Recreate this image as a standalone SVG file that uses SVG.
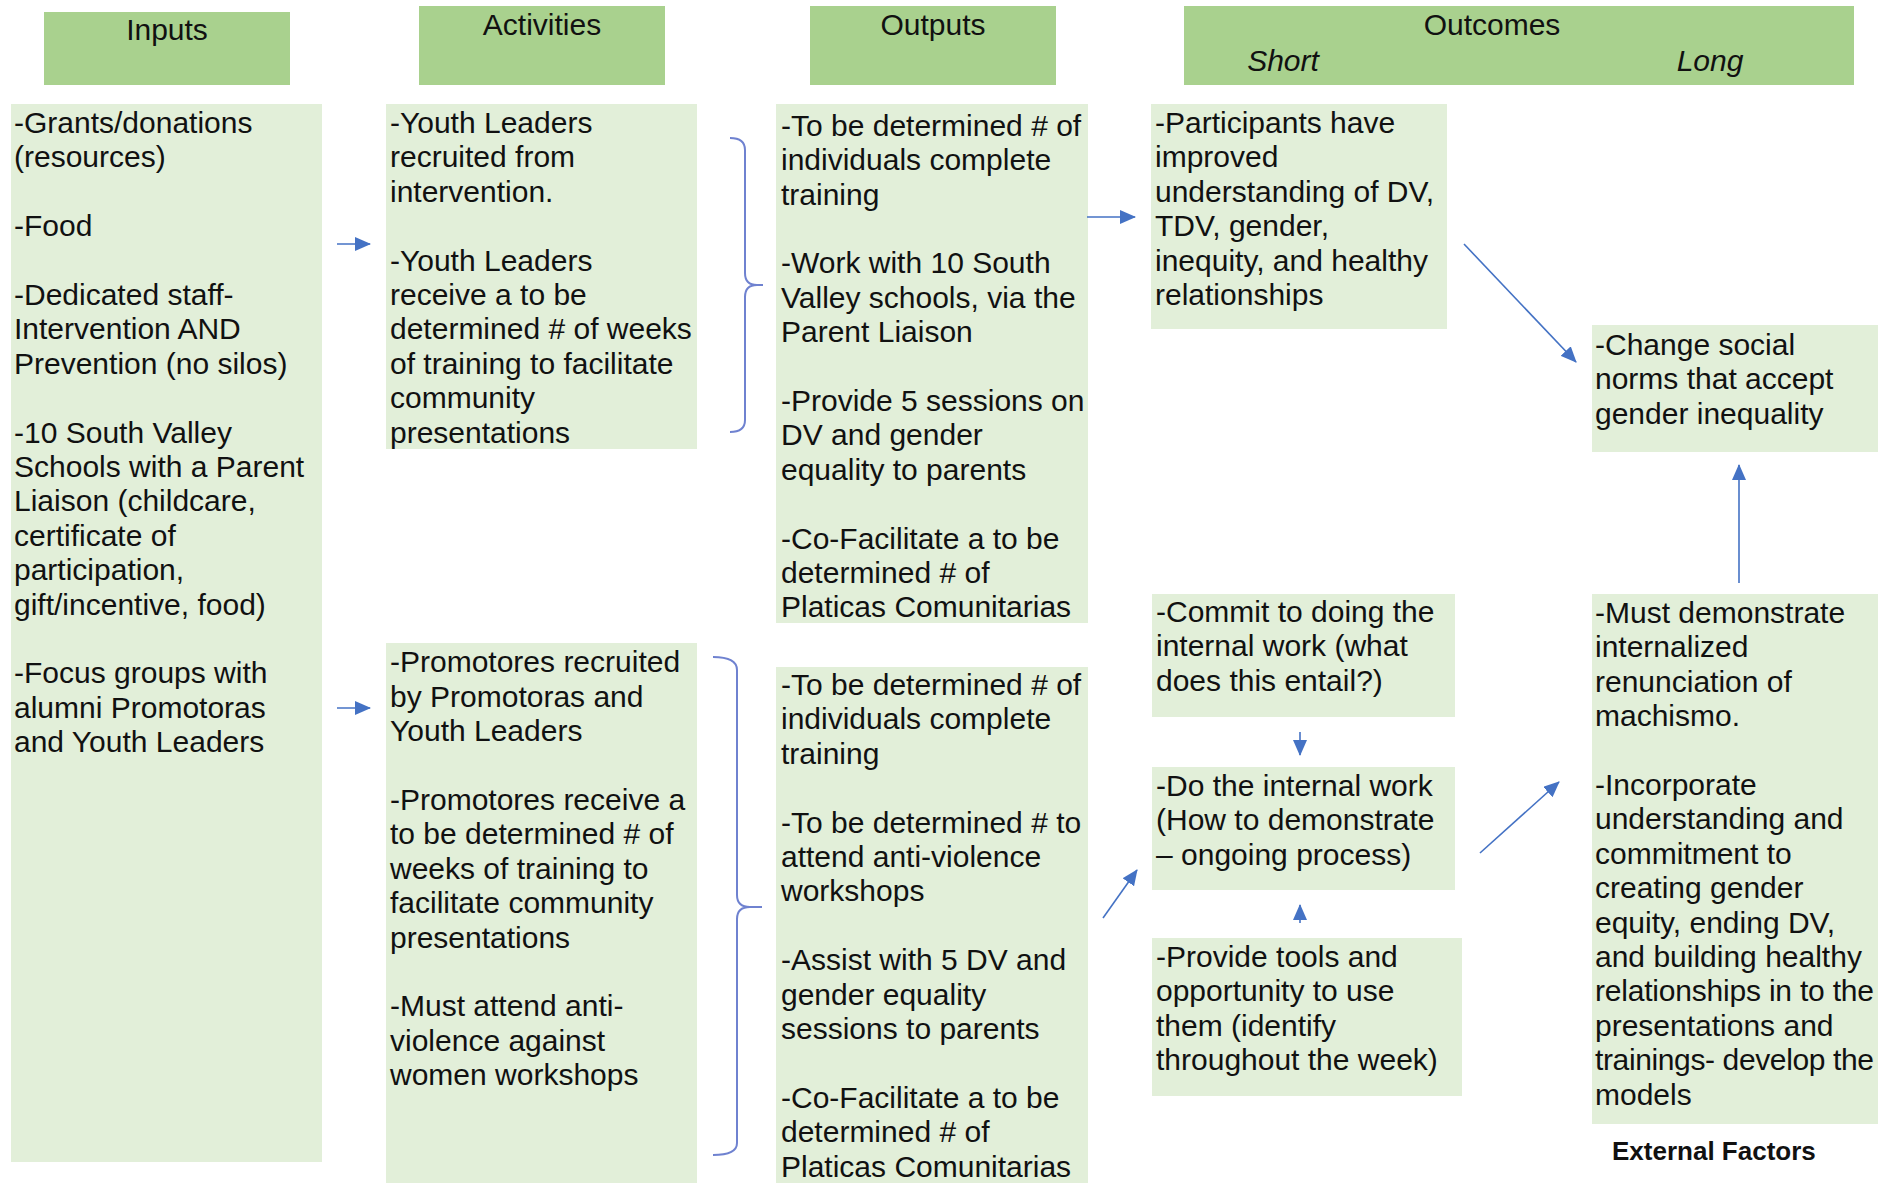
<svg xmlns="http://www.w3.org/2000/svg" width="1878" height="1183" viewBox="0 0 1878 1183">
<style>
.hdr{fill:#a9d18e}
.body{fill:#e2efd9}
text{font-family:"Liberation Sans",Arial,sans-serif;font-size:30px;fill:#111}
.hc{text-anchor:middle}
.it{font-style:italic}
.ext{font-weight:bold;font-size:26px}
.conn{stroke:#4472c4;stroke-width:1.6;fill:none}
.brace{stroke:#6f82d0;stroke-width:2;fill:none}
</style>
<defs>
<marker id="ah" markerUnits="userSpaceOnUse" markerWidth="16" markerHeight="14" refX="15" refY="7" orient="auto">
<path d="M0,0 L16,7 L0,14 z" fill="#4472c4"/>
</marker>
</defs>
<rect width="1878" height="1183" fill="#fff"/>

<g id="hdr-inputs"><rect class="hdr" x="44" y="12" width="246" height="73"/><text class="hc" x="167" y="40">Inputs</text></g>
<g id="hdr-activities"><rect class="hdr" x="419" y="6" width="246" height="79"/><text class="hc" x="542" y="35">Activities</text></g>
<g id="hdr-outputs"><rect class="hdr" x="810" y="6" width="246" height="79"/><text class="hc" x="933" y="35">Outputs</text></g>
<g id="hdr-outcomes"><rect class="hdr" x="1184" y="6" width="670" height="79"/><text class="hc" x="1492" y="35">Outcomes</text><text class="hc it" x="1283" y="71">Short</text><text class="hc it" x="1710" y="71">Long</text></g>

<g id="inputs"><rect class="body" x="11" y="104" width="311" height="1058"/>
<text x="14">
<tspan x="14" y="133">-Grants/donations</tspan>
<tspan x="14" y="167.4">(resources)</tspan>
<tspan x="14" y="236.2">-Food</tspan>
<tspan x="14" y="305">-Dedicated staff-</tspan>
<tspan x="14" y="339.4">Intervention AND</tspan>
<tspan x="14" y="373.8">Prevention (no silos)</tspan>
<tspan x="14" y="442.6">-10 South Valley</tspan>
<tspan x="14" y="477">Schools with a Parent</tspan>
<tspan x="14" y="511.4">Liaison (childcare,</tspan>
<tspan x="14" y="545.8">certificate of</tspan>
<tspan x="14" y="580.2">participation,</tspan>
<tspan x="14" y="614.6">gift/incentive, food)</tspan>
<tspan x="14" y="683.4">-Focus groups with</tspan>
<tspan x="14" y="717.8">alumni Promotoras</tspan>
<tspan x="14" y="752.2">and Youth Leaders</tspan>
</text></g>

<g id="activities-top"><rect class="body" x="386" y="104" width="311" height="345"/>
<text>
<tspan x="390" y="133">-Youth Leaders</tspan>
<tspan x="390" y="167.4">recruited from</tspan>
<tspan x="390" y="201.8">intervention.</tspan>
<tspan x="390" y="270.6">-Youth Leaders</tspan>
<tspan x="390" y="305">receive a to be</tspan>
<tspan x="390" y="339.4">determined # of weeks</tspan>
<tspan x="390" y="373.8">of training to facilitate</tspan>
<tspan x="390" y="408.2">community</tspan>
<tspan x="390" y="442.6">presentations</tspan>
</text></g>

<g id="activities-bottom"><rect class="body" x="386" y="643" width="311" height="540"/>
<text>
<tspan x="390" y="672.3">-Promotores recruited</tspan>
<tspan x="390" y="706.7">by Promotoras and</tspan>
<tspan x="390" y="741.1">Youth Leaders</tspan>
<tspan x="390" y="809.9">-Promotores receive a</tspan>
<tspan x="390" y="844.3">to be determined # of</tspan>
<tspan x="390" y="878.7">weeks of training to</tspan>
<tspan x="390" y="913.1">facilitate community</tspan>
<tspan x="390" y="947.5">presentations</tspan>
<tspan x="390" y="1016.3">-Must attend anti-</tspan>
<tspan x="390" y="1050.7">violence against</tspan>
<tspan x="390" y="1085.1">women workshops</tspan>
</text></g>

<g id="outputs-top"><rect class="body" x="776" y="104" width="312" height="519"/>
<text>
<tspan x="781" y="135.8">-To be determined # of</tspan>
<tspan x="781" y="170.2">individuals complete</tspan>
<tspan x="781" y="204.6">training</tspan>
<tspan x="781" y="273.4">-Work with 10 South</tspan>
<tspan x="781" y="307.8">Valley schools, via the</tspan>
<tspan x="781" y="342.2">Parent Liaison</tspan>
<tspan x="781" y="411">-Provide 5 sessions on</tspan>
<tspan x="781" y="445.4">DV and gender</tspan>
<tspan x="781" y="479.8">equality to parents</tspan>
<tspan x="781" y="548.6">-Co-Facilitate a to be</tspan>
<tspan x="781" y="583">determined # of</tspan>
<tspan x="781" y="617.4">Platicas Comunitarias</tspan>
</text></g>

<g id="outputs-bottom"><rect class="body" x="776" y="667" width="312" height="516"/>
<text>
<tspan x="781" y="695">-To be determined # of</tspan>
<tspan x="781" y="729.4">individuals complete</tspan>
<tspan x="781" y="763.8">training</tspan>
<tspan x="781" y="832.6">-To be determined # to</tspan>
<tspan x="781" y="867">attend anti-violence</tspan>
<tspan x="781" y="901.4">workshops</tspan>
<tspan x="781" y="970.2">-Assist with 5 DV and</tspan>
<tspan x="781" y="1004.6">gender equality</tspan>
<tspan x="781" y="1039">sessions to parents</tspan>
<tspan x="781" y="1107.8">-Co-Facilitate a to be</tspan>
<tspan x="781" y="1142.2">determined # of</tspan>
<tspan x="781" y="1176.6">Platicas Comunitarias</tspan>
</text></g>

<g id="participants"><rect class="body" x="1151" y="104" width="296" height="225"/>
<text>
<tspan x="1155" y="133">-Participants have</tspan>
<tspan x="1155" y="167.4">improved</tspan>
<tspan x="1155" y="201.8">understanding of DV,</tspan>
<tspan x="1155" y="236.2">TDV, gender,</tspan>
<tspan x="1155" y="270.6">inequity, and healthy</tspan>
<tspan x="1155" y="305">relationships</tspan>
</text></g>

<g id="commit"><rect class="body" x="1152" y="594" width="303" height="123"/>
<text>
<tspan x="1156" y="622">-Commit to doing the</tspan>
<tspan x="1156" y="656.4">internal work (what</tspan>
<tspan x="1156" y="690.8">does this entail?)</tspan>
</text></g>

<g id="do-work"><rect class="body" x="1152" y="767" width="303" height="123"/>
<text>
<tspan x="1156" y="795.7">-Do the internal work</tspan>
<tspan x="1156" y="830.1">(How to demonstrate</tspan>
<tspan x="1156" y="864.5">– ongoing process)</tspan>
</text></g>

<g id="provide-tools"><rect class="body" x="1152" y="938" width="310" height="158"/>
<text>
<tspan x="1156" y="967">-Provide tools and</tspan>
<tspan x="1156" y="1001.4">opportunity to use</tspan>
<tspan x="1156" y="1035.8">them (identify</tspan>
<tspan x="1156" y="1070.2">throughout the week)</tspan>
</text></g>

<g id="change-norms"><rect class="body" x="1592" y="325" width="286" height="127"/>
<text>
<tspan x="1595" y="355">-Change social</tspan>
<tspan x="1595" y="389.4">norms that accept</tspan>
<tspan x="1595" y="423.8">gender inequality</tspan>
</text></g>

<g id="must-demonstrate"><rect class="body" x="1592" y="594" width="286" height="530"/>
<text>
<tspan x="1595" y="623">-Must demonstrate</tspan>
<tspan x="1595" y="657.4">internalized</tspan>
<tspan x="1595" y="691.8">renunciation of</tspan>
<tspan x="1595" y="726.2">machismo.</tspan>
<tspan x="1595" y="795">-Incorporate</tspan>
<tspan x="1595" y="829.4">understanding and</tspan>
<tspan x="1595" y="863.8">commitment to</tspan>
<tspan x="1595" y="898.2">creating gender</tspan>
<tspan x="1595" y="932.6">equity, ending DV,</tspan>
<tspan x="1595" y="967">and building healthy</tspan>
</text>
<text x="1595" y="1001.4" textLength="279" lengthAdjust="spacing">relationships in to the</text>
<text x="1595" y="1035.8">presentations and</text>
<text x="1595" y="1070.2" textLength="279" lengthAdjust="spacing">trainings- develop the</text>
<text x="1595" y="1104.6">models</text>
</g>

<g id="external-factors"><text class="ext" x="1612" y="1160">External Factors</text></g>

<g id="connectors">
<line class="conn" x1="337" y1="244" x2="370" y2="244" marker-end="url(#ah)"/>
<line class="conn" x1="337" y1="708" x2="370" y2="708" marker-end="url(#ah)"/>
<path class="brace" d="M730,138 Q745,138 745,150 L745,273 Q745,285 757,285 L763,285 M757,285 Q745,285 745,297 L745,420 Q745,432 730,432"/>
<path class="brace" d="M713,657 Q737,657 737,670 L737,895 Q737,907 750,907 L762,907 M750,907 Q737,907 737,919 L737,1143 Q737,1155 713,1155"/>
<line class="conn" x1="1087" y1="217" x2="1135" y2="217" marker-end="url(#ah)"/>
<line class="conn" x1="1464" y1="244" x2="1576" y2="362" marker-end="url(#ah)"/>
<line class="conn" x1="1103" y1="918" x2="1137" y2="870" marker-end="url(#ah)"/>
<line class="conn" x1="1300" y1="732" x2="1300" y2="755" marker-end="url(#ah)"/>
<line class="conn" x1="1300" y1="923" x2="1300" y2="905" marker-end="url(#ah)"/>
<line class="conn" x1="1480" y1="853" x2="1559" y2="782" marker-end="url(#ah)"/>
<line class="conn" x1="1739" y1="583" x2="1739" y2="465" marker-end="url(#ah)"/>
</g>
</svg>
